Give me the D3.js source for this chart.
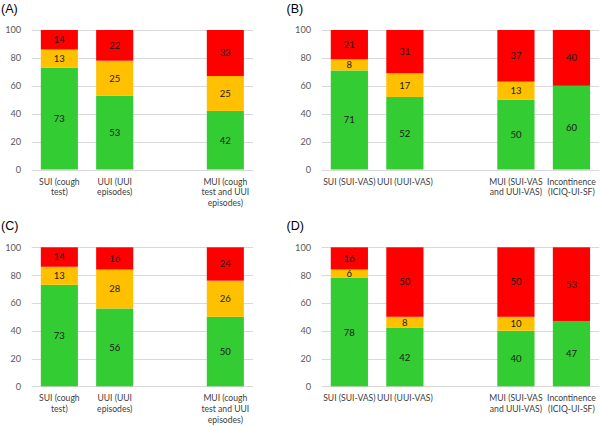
<!DOCTYPE html>
<html><head><meta charset="utf-8">
<script src="https://cdn.jsdelivr.net/npm/d3@7"></script>
<style>
html,body{margin:0;padding:0;background:#fff;}
svg{display:block;}
</style></head>
<body>
<svg id="chart" width="600" height="426"></svg>
<script>
// ---- data ----
const catsAC = ["SUI", "UUI", "", "MUI"];
const labelsAC = [["SUI (cough","test)"],["UUI (UUI","episodes)"],[],["MUI (cough","test and UUI","episodes)"]];
const catsBD = ["SUI", "UUI", "", "MUI", "INC"];
const labelsBD = [["SUI (SUI-VAS)"],["UUI (UUI-VAS)"],[],["MUI (SUI-VAS","and UUI-VAS)"],["Incontinence","(ICIQ-UI-SF)"]];

const greenA = [73, 53, null, 42];
const yellowA = [13, 25, null, 25];
const redA = [14, 22, null, 33];

const greenB = [71, 52, null, 50, 60];
const yellowB = [8, 17, null, 13, 0];
const redB = [21, 31, null, 37, 40];

const greenC = [73, 56, null, 50];
const yellowC = [13, 28, null, 26];
const redC = [14, 16, null, 24];

const greenD = [78, 42, null, 40, 47];
const yellowD = [6, 8, null, 10, 0];
const redD = [16, 50, null, 50, 53];

const yTicks = [0, 20, 40, 60, 80, 100];
const seriesNames = ["green", "yellow", "red"];
const colors = {green: "#33CC33", yellow: "#FFC000", red: "#FF0000"};

const panels = [
  {title: "(A)", cats: catsAC, labels: labelsAC, series: [greenA, yellowA, redA], x0: 31.7, x1: 253, y0: 169.5, y1: 30, tx: 1, ty: 13},
  {title: "(B)", cats: catsBD, labels: labelsBD, series: [greenB, yellowB, redB], x0: 321.6, x1: 599.2, y0: 169.5, y1: 30, tx: 286.5, ty: 13},
  {title: "(C)", cats: catsAC, labels: labelsAC, series: [greenC, yellowC, redC], x0: 31.7, x1: 253, y0: 386.3, y1: 247.3, tx: 1, ty: 230},
  {title: "(D)", cats: catsBD, labels: labelsBD, series: [greenD, yellowD, redD], x0: 321.6, x1: 599.2, y0: 386.3, y1: 247.3, tx: 286.5, ty: 230}
];

const svg = d3.select("#chart");
const font = "Lato, 'Open Sans', sans-serif";

panels.forEach(p => {
  const g = svg.append("g");
  const x = d3.scaleBand().domain(p.cats).range([p.x0, p.x1]).paddingInner(0.33).paddingOuter(0.165);
  const y = d3.scaleLinear().domain([0, 100]).range([p.y0, p.y1]);

  // title
  g.append("text").attr("x", p.tx).attr("y", p.ty).text(p.title)
    .attr("font-family", "'Liberation Sans', Arial, sans-serif").attr("font-size", 12.5).attr("fill", "#000");

  // grid
  g.selectAll("line.grid").data(yTicks).join("line")
    .attr("x1", p.x0).attr("x2", p.x1)
    .attr("y1", d => Math.round(y(d)) + 0.5).attr("y2", d => Math.round(y(d)) + 0.5)
    .attr("stroke", "#d9d9d9").attr("stroke-width", 1);

  // y axis labels
  const yAxis = d3.axisLeft(y).tickValues(yTicks).tickSize(0).tickPadding(10.5);
  const ya = g.append("g").attr("transform", `translate(${p.x0},0)`).call(yAxis);
  ya.select(".domain").remove();
  ya.selectAll("text").attr("font-family", font).attr("font-size", 9.2).attr("fill", "#595959");

  // stacks
  const rows = p.cats.map((c, i) => ({cat: c, green: p.series[0][i], yellow: p.series[1][i], red: p.series[2][i]}))
    .filter(r => r.cat !== "");
  const stack = d3.stack().keys(seriesNames).value((d, k) => d[k] || 0)(rows);

  stack.forEach(layer => {
    const key = layer.key;
    const lg = g.append("g");
    lg.selectAll("rect").data(layer).join("rect")
      .attr("x", d => x(d.data.cat))
      .attr("width", x.bandwidth())
      .attr("y", d => y(d[1]))
      .attr("height", d => y(d[0]) - y(d[1]))
      .attr("fill", colors[key]);
    lg.selectAll("text").data(layer.filter(d => d.data[key] > 0)).join("text")
      .attr("x", d => x(d.data.cat) + x.bandwidth() / 2)
      .attr("y", d => (y(d[0]) + y(d[1])) / 2)
      .attr("dy", "0.36em")
      .attr("text-anchor", "middle")
      .attr("font-family", font).attr("font-size", 9.5).attr("fill", "#1a1a1a")
      .text(d => d.data[key]);
  });

  // category labels
  p.cats.forEach((c, i) => {
    if (c === "") return;
    const t = g.append("text")
      .attr("text-anchor", "middle")
      .attr("font-family", font).attr("font-size", 8.6).attr("fill", "#404040");
    p.labels[i].forEach((line, j) => {
      t.append("tspan").attr("x", x(c) + x.bandwidth() / 2)
        .attr("y", p.y0 + 15 + j * 10.6).text(line);
    });
  });
});
</script>
</body></html>
